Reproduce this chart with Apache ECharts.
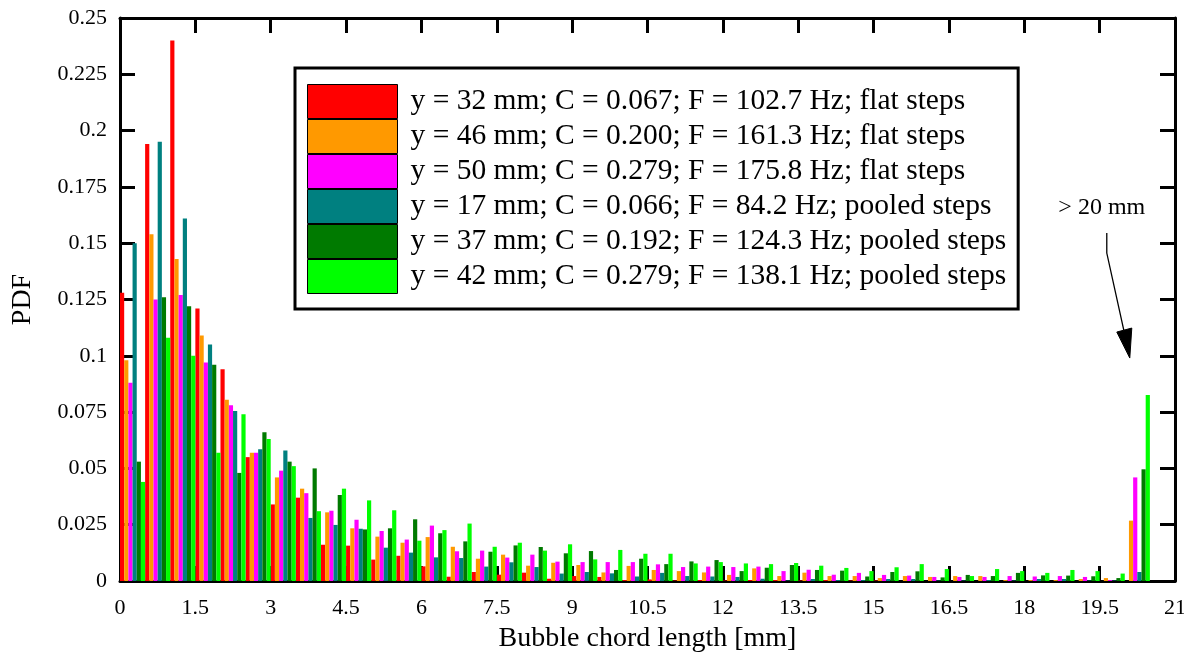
<!DOCTYPE html>
<html><head><meta charset="utf-8">
<script src="https://cdn.jsdelivr.net/npm/echarts@6/dist/echarts.min.js"></script>
<style>html,body{margin:0;padding:0;background:#fff}#c{width:1184px;height:657px}</style>
</head><body><div id="c"></div>
<script>
// Bin centres [mm] (bins of 0.5 mm; last bin = "> 20 mm")
const binCenters = [0.25,0.75,1.25,1.75,2.25,2.75,3.25,3.75,4.25,4.75,5.25,5.75,6.25,6.75,7.25,7.75,8.25,8.75,9.25,9.75,10.25,10.75,11.25,11.75,12.25,12.75,13.25,13.75,14.25,14.75,15.25,15.75,16.25,16.75,17.25,17.75,18.25,18.75,19.25,19.75,20.25];

const seriesNames = [
  'y = 32 mm; C = 0.067; F = 102.7 Hz; flat steps',
  'y = 46 mm; C = 0.200; F = 161.3 Hz; flat steps',
  'y = 50 mm; C = 0.279; F = 175.8 Hz; flat steps',
  'y = 17 mm; C = 0.066; F = 84.2 Hz; pooled steps',
  'y = 37 mm; C = 0.192; F = 124.3 Hz; pooled steps',
  'y = 42 mm; C = 0.279; F = 138.1 Hz; pooled steps'
];
const seriesColors = ['#ff0000','#ff9900','#ff00ff','#008080','#007a00','#00ff00'];

const pdfY32 = [0.128,0.194,0.240,0.121,0.094,0.055,0.034,0.037,0.0161,0.0157,0.0095,0.0112,0.0065,0.0019,0.004,0.0028,0.0037,0.001,0.0022,0.0018,0.0004,0.0007,0.0002,0.0004,0.0002,0.0004,0.0004,0.0002,0.0004,0.0002,0.0002,0,0,0,0,0,0,0,0,0,0];
const pdfY46 = [0.098,0.154,0.143,0.109,0.0805,0.057,0.046,0.041,0.0305,0.0234,0.0197,0.017,0.0195,0.0152,0.0099,0.0117,0.0068,0.0081,0.0071,0.0038,0.0067,0.0049,0.0044,0.0038,0.0027,0.0056,0.0022,0.0037,0.0022,0.0022,0.0013,0.0022,0.0018,0.0022,0.0022,0.0004,0.0004,0.0004,0.0009,0.0013,0.0268];
const pdfY50 = [0.088,0.125,0.127,0.097,0.078,0.057,0.049,0.039,0.0312,0.0272,0.0222,0.0184,0.0246,0.0132,0.0135,0.0104,0.0117,0.0086,0.0084,0.0084,0.0084,0.0074,0.0062,0.0064,0.0062,0.0064,0.0044,0.005,0.0028,0.0036,0.0027,0.0024,0.0018,0.0018,0.0018,0.0022,0.002,0.0022,0.0018,0.0004,0.046];
const pdfY17 = [0.150,0.195,0.161,0.105,0.0755,0.0585,0.058,0.028,0.0249,0.0232,0.0148,0.0126,0.0105,0.0102,0.0064,0.0083,0.0062,0.0033,0.004,0.0034,0.002,0.0036,0.0022,0.002,0.0018,0.001,0.0002,0.0009,0.0004,0.0004,0.0009,0.0009,0.0002,0.0002,0.0004,0.0002,0.0009,0.0009,0.0002,0.0002,0.004];
const pdfY37 = [0.053,0.126,0.122,0.096,0.048,0.066,0.053,0.050,0.0382,0.0229,0.0234,0.0274,0.0212,0.0176,0.013,0.0158,0.0151,0.0123,0.0133,0.0049,0.0099,0.0075,0.0087,0.0093,0.0044,0.0059,0.0071,0.0049,0.0046,0.002,0.004,0.0043,0.0016,0.0027,0.0022,0.0036,0.0025,0.0024,0.0021,0.0013,0.0496];
const pdfY42 = [0.044,0.108,0.100,0.057,0.074,0.063,0.051,0.031,0.041,0.0358,0.0314,0.0179,0.0226,0.0255,0.0152,0.017,0.0135,0.0163,0.0096,0.0138,0.0121,0.0121,0.0078,0.0084,0.0078,0.0075,0.008,0.0068,0.0058,0.0044,0.0061,0.0075,0.0053,0.0022,0.0053,0.0044,0.0036,0.0049,0.0044,0.0033,0.0826];

const allValues = [pdfY32,pdfY46,pdfY50,pdfY17,pdfY37,pdfY42];

const xMin = 0, xMax = 21, xInterval = 1.5;
const yMin = 0, yMax = 0.25, yInterval = 0.025;
const annotationText = '> 20 mm';
const arrowTip = [20.1, 0.099];

const FONT = '"Liberation Serif","Times New Roman",serif';
const chart = echarts.init(document.getElementById('c'), null, {renderer:'canvas'});

const axisCommon = {
  axisLine: {onZero:false, lineStyle:{color:'#000', width:3}},
  axisTick: {inside:true, length:15, lineStyle:{color:'#000', width:3}},
  splitLine: {show:false}
};

const option = {
  animation: false,
  backgroundColor: '#fff',
  textStyle: {fontFamily: FONT},
  grid: {left:120, right:9, top:18, bottom:76, containLabel:false, outerBoundsMode:'none'},
  xAxis: [
    Object.assign({type:'value', min:xMin, max:xMax, interval:xInterval, position:'bottom',
      axisLabel:{color:'#000', fontSize:22, fontFamily:FONT, margin:16},
      name:'Bubble chord length [mm]', nameLocation:'middle', nameGap:44,
      nameTextStyle:{color:'#000', fontSize:28, fontFamily:FONT}}, axisCommon),
    Object.assign({type:'value', min:xMin, max:xMax, interval:xInterval, position:'top',
      axisLabel:{show:false}}, axisCommon)
  ],
  yAxis: [
    Object.assign({type:'value', min:yMin, max:yMax, interval:yInterval, position:'left',
      axisLabel:{color:'#000', fontSize:22, fontFamily:FONT, margin:13},
      name:'PDF', nameLocation:'middle', nameGap:83, nameRotate:90,
      nameTextStyle:{color:'#000', fontSize:28, fontFamily:FONT}}, axisCommon),
    Object.assign({type:'value', min:yMin, max:yMax, interval:yInterval, position:'right',
      axisLabel:{show:false}}, axisCommon)
  ],
  legend: {
    orient:'vertical', left:295, top:68,
    itemWidth:90, itemHeight:34, itemGap:0,
    padding:[16,12,15,12],
    borderColor:'#000', borderWidth:3, backgroundColor:'#fff',
    icon:'rect',
    itemStyle:{borderColor:'#000', borderWidth:1},
    textStyle:{color:'#000', fontSize:29.5, lineHeight:34, fontFamily:FONT, padding:[0,0,0,8]},
    data: seriesNames
  },
  series: seriesNames.map((name, s) => ({
    name: name,
    type: 'bar',
    xAxisIndex: 0, yAxisIndex: 0,
    barGap: '0%', barCategoryGap: '0%',
    itemStyle: {color: seriesColors[s]},
    data: binCenters.map((x, i) => [x, allValues[s][i]])
  }))
};
chart.setOption(option);

const tip = chart.convertToPixel({xAxisIndex:0, yAxisIndex:0}, arrowTip);
const tx = tip[0], ty = tip[1];
chart.setOption({
  graphic: [
    {type:'text', x: tx - 28, y: ty - 150, z: 100,
      style:{text: annotationText, fill:'#000', font:'24px ' + FONT, align:'center', verticalAlign:'middle'}},
    {type:'polyline', z: 100,
      shape:{points:[[tx-23, ty-125],[tx-23, ty-105],[tx-6, ty-28]]},
      style:{stroke:'#000', lineWidth:1.3, fill:null}},
    {type:'polygon', z: 100,
      shape:{points:[[tx, ty],[tx-13, ty-26],[tx+2, ty-30]]},
      style:{fill:'#000', stroke:'#000', lineWidth:1}}
  ]
});
</script>
</body></html>
